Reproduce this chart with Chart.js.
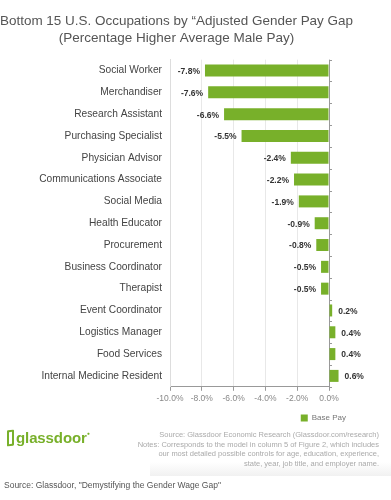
<!DOCTYPE html>
<html>
<head>
<meta charset="utf-8">
<script src="https://cdn.jsdelivr.net/npm/chart.js@4/dist/chart.umd.min.js"></script>
<style>
	html, body { margin: 0; padding: 0; background: #fff; }
	#wrap { position: relative; width: 391px; height: 500px; overflow: hidden; font-family: "Liberation Sans", Arial, sans-serif; }
	#chart { position: absolute; left: 0; top: 0; }
	.logo { position: absolute; left: 7px; top: 429px; color: #78b02a; font-family: "Liberation Sans", Arial, sans-serif; font-weight: bold; font-size: 15px; letter-spacing: -0.1px; white-space: nowrap; }
	.logo .door { display: inline-block; width: 3px; height: 12px; border: 2.5px solid #78b02a; border-radius: 1px; vertical-align: -3px; margin-right: 2px; transform: skewY(-8deg); }
	.logo sup { font-size: 5px; vertical-align: 8px; }
	.notes { position: absolute; right: 12px; top: 430px; text-align: right; font-size: 7.5px; line-height: 9.6px; color: #aaa; white-space: nowrap; }
	.shade { position: absolute; left: 150px; right: 0; top: 462px; height: 14px; background: linear-gradient(#fff, #f1f1f1); }
	.source { position: absolute; left: 4px; top: 480px; font-size: 8.5px; color: #555; }
</style>
</head>
<body>
<div id="wrap">
	<div class="shade"></div>
	<canvas id="chart" width="391" height="432"></canvas>
	<div class="logo"><span class="door"></span>glassdoor<sup>●</sup></div>
	<div class="notes">Source: Glassdoor Economic Research (Glassdoor.com/research)<br>Notes: Corresponds to the model in column 5 of Figure 2, which includes<br>our most detailed possible controls for age, education, experience,<br>state, year, job title, and employer name.</div>
	<div class="source">Source: Glassdoor, "Demystifying the Gender Wage Gap"</div>
</div>
<script>
const titleLines = ["Bottom 15 U.S. Occupations by \u201cAdjusted Gender Pay Gap", "(Percentage Higher Average Male Pay)"];
const categories = [
	"Social Worker", "Merchandiser", "Research Assistant", "Purchasing Specialist",
	"Physician Advisor", "Communications Associate", "Social Media", "Health Educator",
	"Procurement", "Business Coordinator", "Therapist", "Event Coordinator",
	"Logistics Manager", "Food Services", "Internal Medicine Resident"
];
const basePay = [-7.8, -7.6, -6.6, -5.5, -2.4, -2.2, -1.9, -0.9, -0.8, -0.5, -0.5, 0.2, 0.4, 0.4, 0.6];
const seriesName = "Base Pay";
const xMin = -10;
const xMax = 0;
const xStep = 2;

const green = "#78b02a";

const valueLabels = {
	id: "valueLabels",
	afterDatasetsDraw(chart) {
		const { ctx } = chart;
		const meta = chart.getDatasetMeta(0);
		ctx.save();
		ctx.font = "bold 8.5px 'Liberation Sans', Arial, sans-serif";
		ctx.fillStyle = "#333";
		ctx.textBaseline = "middle";
		meta.data.forEach((bar, i) => {
			const v = chart.data.datasets[0].data[i];
			const txt = v.toFixed(1) + "%";
			if (v < 0) {
				ctx.textAlign = "right";
				ctx.fillText(txt, bar.x - 5, bar.y + 1);
			} else {
				ctx.textAlign = "left";
				ctx.fillText(txt, bar.x + 6, bar.y + 1);
			}
		});
		// little ticks on the zero line
		const x0 = chart.scales.x.getPixelForValue(0);
		const ys = chart.scales.y;
		ctx.strokeStyle = "#999";
		ctx.lineWidth = 1;
		for (let i = 0; i <= categories.length; i++) {
			const yy = Math.round(ys.getPixelForValue(i - 0.5)) + 0.5;
			ctx.beginPath();
			ctx.moveTo(x0, yy);
			ctx.lineTo(x0 + 3, yy);
			ctx.stroke();
		}
		ctx.restore();
	},
};

new Chart(document.getElementById("chart"), {
	type: "bar",
	plugins: [valueLabels],
	data: {
		labels: categories,
		datasets: [{
			label: seriesName,
			data: basePay,
			backgroundColor: green,
			borderWidth: 0,
			barPercentage: 0.55,
			categoryPercentage: 1,
			clip: false,
		}],
	},
	options: {
		indexAxis: "y",
		responsive: false,
		animation: false,
		layout: { padding: { left: 0, right: 38, top: 0, bottom: 0 } },
		plugins: {
			tooltip: { enabled: false },
			title: {
				display: true,
				text: titleLines,
				color: "#555",
				font: { family: "'Liberation Sans', Arial, sans-serif", size: 13.5, weight: "normal", lineHeight: 1.32 },
				padding: { top: 12, bottom: 12 },
			},
			legend: {
				position: "bottom",
				align: "end",
				labels: {
					boxWidth: 7,
					boxHeight: 7,
					padding: 7,
					color: "#777",
					font: { family: "'Liberation Sans', Arial, sans-serif", size: 8 },
				},
			},
		},
		scales: {
			x: {
				min: xMin,
				max: xMax,
				ticks: {
					stepSize: xStep,
					color: "#888",
					padding: 3,
					maxRotation: 0,
					font: { family: "'Liberation Sans', Arial, sans-serif", size: 8.5 },
					callback: v => v.toFixed(1) + "%",
				},
				grid: {
					color: c => (c.tick && c.tick.value === 0 ? "#999" : "#e8e8e8"),
					tickColor: "#999",
					tickLength: 4,
				},
				border: { display: true, color: "#999" },
			},
			y: {
				afterFit: s => { s.width = 170; },
				ticks: {
					color: "#444",
					padding: 8,
					font: { family: "'Liberation Sans', Arial, sans-serif", size: 10.2 },
				},
				grid: { display: false, drawTicks: false },
				border: { display: true, color: "#ddd" },
			},
			y2: {
				type: "linear",
				position: "right",
				afterFit: s => { s.width = 24; },
				ticks: { display: false },
				grid: { display: false, drawTicks: false },
				border: { display: false },
			},
		},
	},
});
</script>
</body>
</html>
